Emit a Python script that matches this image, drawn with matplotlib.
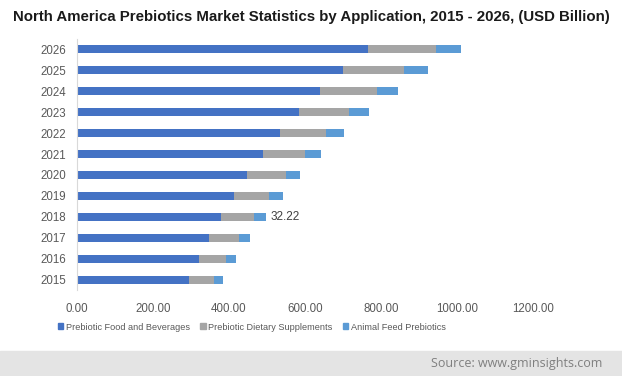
import numpy as np
import matplotlib.pyplot as plt
from matplotlib.patches import Rectangle

plt.rcParams.update({'font.family': 'Liberation Sans'})

years = ['2015', '2016', '2017', '2018', '2019', '2020',
         '2021', '2022', '2023', '2024', '2025', '2026']
food_bev = [295, 321, 347, 379, 413, 447, 489, 534, 584, 639, 700, 766]
dietary = [65, 71, 79, 87, 92, 103, 111, 121, 132, 150, 161, 179]
animal_feed = [24, 26, 29, 32.22, 37, 37, 42, 48, 52, 56, 63, 65]
xticks = [0, 200, 400, 600, 800, 1000, 1200]

series = [
    ('Prebiotic Food and Beverages', food_bev, '#4472C4'),
    ('Prebiotic Dietary Supplements', dietary, '#A5A5A5'),
    ('Animal Feed Prebiotics', animal_feed, '#5B9BD5'),
]

fig = plt.figure(figsize=(6.22, 3.76), dpi=100)
ax = fig.add_axes([0.1238, 0.2274, 0.733, 0.6702])

y = np.arange(len(years))
left = np.zeros(len(years))
for name, vals, col in series:
    ax.barh(y, vals, left=left, height=0.38, color=col, label=name)
    left = left + np.array(vals)

# data label on the 2018 animal feed segment
i18 = years.index('2018')
ax.text(left[i18] + 12, y[i18], f'{animal_feed[i18]:.2f}', va='center', ha='left',
        fontsize=8.5, color='#404040')

ax.set_xlim(0, 1200)
ax.set_ylim(-0.5, len(years) - 0.5)
ax.set_yticks(y)
ax.set_yticklabels(years)
ax.set_xticks(xticks)
ax.set_xticklabels([f'{v:.2f}' for v in xticks])
ax.tick_params(axis='both', length=0, labelsize=8.3, colors='#595959')
ax.tick_params(axis='y', pad=8)
ax.tick_params(axis='x', pad=9)
for s in ['top', 'right', 'bottom']:
    ax.spines[s].set_visible(False)
ax.spines['left'].set_color('#D9D9D9')

fig.text(0.5, 0.955, 'North America Prebiotics Market Statistics by Application, 2015 - 2026, (USD Billion)',
         ha='center', va='center', fontsize=10.8, fontweight='bold', color='#1a1a1a')

handles = [Rectangle((0, 0), 1, 1, color=c) for _, _, c in series]
fig.legend(handles, [n for n, _, _ in series], loc='center', bbox_to_anchor=(0.405, 0.130),
           ncol=3, frameon=False, fontsize=6.6, handlelength=0.6, handleheight=0.6,
           handletextpad=0.3, columnspacing=1.1, labelcolor='#595959')

# footer band
fig.patches.append(Rectangle((0, 0), 1, 25 / 376, transform=fig.transFigure,
                             color='#E4E4E4', zorder=0))
fig.text(0.968, 12 / 376, 'Source: www.gminsights.com', ha='right', va='center',
         fontsize=9, color='#7F7F7F', family='Open Sans')

fig.savefig('out.png', dpi=100)
